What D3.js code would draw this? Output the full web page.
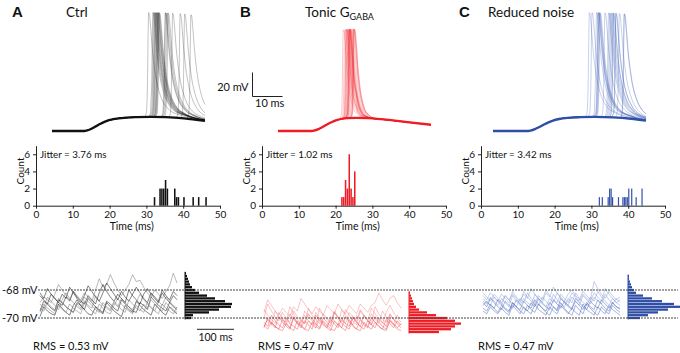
<!DOCTYPE html>
<html>
<head>
<meta charset="utf-8">
<script src="https://cdn.jsdelivr.net/npm/d3@7"></script>
<style>
  body { margin: 0; background: #fff; }
  text { font-family: Lato, "Open Sans", sans-serif; fill: #111; }
</style>
</head>
<body>
<svg id="fig" width="680" height="353"></svg>
<script>
// ---------------- DATA ----------------
const panelLetters = ["A", "B", "C"];
const conditionNames = ["Ctrl", "Tonic G", "Reduced noise"];
const jitterLabels = ["Jitter = 3.76 ms", "Jitter = 1.02 ms", "Jitter = 3.42 ms"];
const rmsLabels = ["RMS = 0.53 mV", "RMS = 0.47 mV", "RMS = 0.47 mV"];

// spike peak times (ms), one per trial
const spikeTimesCtrl = [32.2, 33.6, 33.9, 34.2, 34.4, 34.6, 34.8, 35.1, 35.2, 35.4,
                        35.6, 35.8, 37.7, 37.9, 38.3, 38.7, 40.2, 42.7, 44.2, 46.3];
const spikeTimesTonic = [21.7, 22.2, 22.6, 22.7, 22.9, 23.1, 23.3, 23.55, 23.6, 23.7,
                         23.8, 23.85, 23.95, 24.1, 24.3, 24.7, 25.05, 25.15, 25.3, 25.4];
const spikeTimesReduced = [32.1, 33.0, 34.5, 35.0, 35.1, 35.3, 35.5, 35.7, 37.3, 38.5,
                           38.9, 39.3, 39.7, 40.1, 40.2, 40.9, 41.0, 42.1, 43.7, 43.8];
const binWidths = [0.5, 0.5, 0.4];

// subthreshold response (ms, mV)
const epspCtrl = [[0, -70], [10, -70], [11.5, -69.6], [13, -68.3], [14.5, -66.3], [16, -64.2],
  [17.5, -62.4], [19, -61], [21, -59.9], [24, -59], [28, -58.5], [33, -58.3], [38, -58.5],
  [44, -59.4], [51, -61.5]];
const epspTonic = [[0, -70], [10.5, -70], [12, -69.6], [13.5, -68.4], [15, -66.5], [16.5, -64.3],
  [18, -62.5], [19.5, -61], [21, -60], [23, -59.3], [26, -59.1], [30, -59.2], [36, -60.6],
  [43, -62.6], [51, -64.8]];
const epspReduced = [[0, -70], [11, -70], [12.5, -69.6], [14, -68.4], [15.5, -66.6], [17, -64.6],
  [18.5, -62.8], [20, -61.3], [22, -60], [25, -59], [29, -58.5], [34, -58.3], [40, -58.7],
  [46, -59.8], [51, -61.3]];

// action potential waveform relative to its peak (ms, mV above the subthreshold response)
const apShapeWide = [[-1.5, 0], [-0.8, 3], [-0.4, 25], [-0.15, 70], [0, 87], [0.3, 85], [0.7, 74],
  [1.2, 58], [1.8, 44], [2.5, 32], [3.3, 23], [4.3, 15.5], [5.5, 10], [7, 6], [9, 3.5],
  [12, 1.5], [16, 0.5], [20, 0]];
const apShapeNarrow = [[-1.2, 0], [-0.6, 3], [-0.3, 22], [-0.1, 60], [0.1, 74], [0.4, 72],
  [0.8, 60], [1.3, 42], [2, 25], [3, 12], [4, 5], [5.5, 1.5], [7, 0]];

const countTicks = [0, 2, 4, 6];
const timeTicks = [0, 10, 20, 30, 40, 50];

// membrane potential noise, mV sampled every 10 ms
const noiseStep = 10;
const noiseCtrl = [
  [-69.5,-68.8,-69.0,-69.3,-69.5,-68.7,-68.9,-69.2,-69.4,-69.6,-68.9,-69.1,-69.4,-68.6,-68.9,-69.2,-69.4,-69.6,-68.8,-69.0,-69.3,-69.5,-68.7,-69.0,-69.2,-69.5,-69.6,-68.9,-69.1,-69.4,-68.5,-68.8,-69.1,-69.3,-69.5,-68.9,-69.2,-69.4],
  [-68.9,-68.5,-68.7,-68.9,-68.3,-67.6,-68.0,-68.4,-68.7,-68.1,-68.4,-68.7,-68.2,-68.5,-68.8,-68.0,-67.2,-67.8,-67.6,-66.9,-67.5,-68.0,-68.4,-68.0,-67.6,-66.9,-67.4,-67.3,-67.8,-68.2,-68.5,-68.0,-68.3,-68.6,-68.1,-67.7,-66.8,-67.5],
  [-69.9,-69.2,-69.5,-69.7,-69.8,-69.0,-69.3,-69.6,-69.8,-69.1,-68.7,-69.1,-69.4,-69.7,-69.8,-69.2,-69.5,-69.7,-68.9,-69.2,-69.5,-69.7,-69.9,-69.1,-69.4,-69.6,-68.8,-69.1,-69.4,-69.6,-69.8,-69.0,-69.3,-69.6,-69.8,-69.2,-69.5,-69.7],
  [-69.0,-69.3,-68.5,-68.8,-69.1,-69.4,-68.7,-68.2,-68.6,-68.9,-69.2,-69.4,-68.8,-69.1,-69.3,-68.4,-68.8,-69.1,-69.3,-69.5,-68.9,-69.2,-68.6,-68.9,-69.2,-69.4,-68.9,-68.3,-68.7,-69.0,-69.3,-69.5,-68.8,-69.1,-68.5,-68.8,-69.1,-69.3],
  [-68.4,-68.7,-69.0,-68.3,-68.6,-68.9,-69.1,-68.5,-68.8,-68.1,-68.5,-68.8,-69.0,-68.4,-68.7,-69.0,-68.2,-67.6,-68.1,-68.5,-68.8,-68.3,-68.6,-68.9,-68.0,-68.4,-68.7,-69.0,-68.3,-67.9,-68.3,-68.6,-68.9,-68.2,-68.6,-68.9,-68.4,-68.7],
  [-69.6,-69.0,-69.3,-69.5,-69.7,-69.1,-69.4,-69.6,-69.0,-69.3,-69.5,-69.7,-68.9,-69.2,-69.5,-69.7,-69.0,-69.3,-69.6,-69.7,-69.1,-68.6,-69.0,-69.3,-69.5,-69.7,-69.1,-69.4,-69.6,-68.9,-69.2,-69.5,-69.7,-69.0,-69.3,-69.5,-69.7,-69.2],
  [-68.2,-68.6,-67.9,-68.3,-68.6,-68.9,-68.3,-68.6,-67.8,-68.2,-68.6,-68.9,-68.4,-67.7,-68.1,-68.5,-68.8,-68.2,-67.5,-67.9,-68.3,-68.7,-68.1,-68.5,-68.8,-68.3,-67.8,-68.2,-68.6,-68.9,-68.2,-68.5,-68.8,-68.0,-68.4,-68.7,-68.1,-68.4],
  [-69.3,-69.5,-68.9,-69.2,-69.4,-68.6,-68.9,-69.2,-69.4,-69.6,-69.0,-69.3,-68.5,-68.8,-69.1,-69.4,-69.6,-68.9,-69.2,-69.4,-68.8,-69.1,-69.4,-69.6,-68.7,-69.0,-69.3,-69.5,-69.0,-69.3,-68.7,-69.0,-69.3,-69.5,-68.9,-69.2,-69.4,-69.6]
];
const noiseTonic = [
  [-70.7,-70.0,-70.3,-70.6,-70.8,-70.1,-70.4,-70.7,-69.9,-70.3,-70.6,-70.8,-70.2,-70.5,-70.7,-70.0,-70.4,-70.7,-70.9,-70.2,-70.5,-70.7,-69.9,-70.3,-70.6,-70.8,-70.1,-70.5,-70.7,-70.0,-70.3,-70.6,-70.8,-70.1,-70.4,-70.7,-70.2,-70.5],
  [-69.6,-68.7,-69.1,-69.5,-69.8,-69.3,-69.6,-69.9,-69.2,-69.5,-68.6,-69.0,-69.4,-69.7,-69.2,-69.5,-69.8,-69.1,-69.4,-69.7,-69.0,-69.4,-69.7,-69.1,-69.4,-69.7,-69.0,-69.3,-69.6,-69.1,-68.9,-68.2,-68.7,-69.1,-68.6,-68.4,-68.9,-69.3],
  [-70.3,-70.6,-69.8,-70.2,-70.5,-70.7,-70.0,-70.4,-70.6,-70.8,-70.1,-70.4,-69.7,-70.1,-70.4,-70.7,-70.0,-70.3,-70.6,-69.6,-70.0,-70.4,-70.6,-70.8,-70.0,-70.3,-70.6,-69.8,-70.2,-70.5,-70.7,-70.0,-70.3,-70.6,-69.7,-70.1,-70.4,-70.7],
  [-69.9,-70.2,-70.5,-69.5,-69.9,-70.2,-70.5,-69.7,-70.1,-70.4,-70.6,-69.8,-70.2,-70.5,-69.6,-70.0,-70.3,-70.6,-69.9,-70.2,-70.5,-69.4,-69.8,-70.2,-70.5,-69.8,-70.1,-70.4,-70.6,-69.7,-70.1,-70.4,-69.5,-69.9,-70.2,-70.5,-69.8,-70.1],
  [-70.5,-70.8,-70.3,-70.6,-70.8,-70.9,-70.4,-70.7,-70.9,-70.2,-70.5,-70.8,-70.9,-70.3,-70.6,-70.8,-70.2,-70.5,-70.8,-70.9,-70.4,-70.7,-70.9,-70.1,-70.5,-70.8,-70.9,-70.3,-70.6,-70.8,-70.3,-70.6,-70.8,-70.9,-70.2,-70.5,-70.8,-70.9],
  [-69.4,-69.8,-70.1,-70.4,-69.6,-70.0,-70.3,-69.2,-69.7,-70.1,-70.4,-69.5,-69.9,-70.2,-70.5,-69.3,-69.8,-70.1,-70.4,-69.6,-70.0,-70.3,-69.4,-69.8,-70.2,-70.5,-69.5,-69.9,-70.2,-69.3,-69.7,-70.1,-70.4,-69.6,-69.1,-69.6,-70.0,-70.3],
  [-70.6,-70.1,-70.4,-70.7,-69.9,-70.3,-70.6,-70.8,-70.0,-70.4,-70.7,-70.2,-70.5,-70.8,-69.8,-70.2,-70.5,-70.7,-70.1,-70.4,-70.7,-70.0,-70.4,-70.6,-69.9,-70.3,-70.6,-70.8,-70.2,-70.5,-69.9,-70.3,-70.6,-70.8,-70.1,-70.4,-70.7,-70.4],
  [-70.0,-69.0,-69.5,-69.9,-70.2,-69.6,-70.0,-70.3,-69.5,-69.9,-70.2,-70.4,-69.3,-69.8,-70.1,-70.4,-69.7,-70.0,-70.3,-69.5,-69.9,-70.2,-70.4,-69.6,-69.9,-70.2,-69.4,-69.8,-70.1,-70.4,-69.2,-69.7,-70.1,-70.3,-69.8,-70.1,-70.3,-70.5]
];
const noiseReduced = [
  [-68.9,-69.2,-68.6,-68.9,-69.2,-69.4,-68.8,-69.1,-69.3,-68.7,-69.0,-69.3,-69.5,-68.9,-69.2,-68.6,-68.9,-69.2,-69.4,-68.7,-69.0,-69.3,-68.8,-69.1,-69.3,-68.6,-68.9,-69.2,-69.4,-68.8,-69.1,-69.3,-68.7,-69.0,-69.3,-68.9,-69.2,-69.4],
  [-68.4,-68.7,-68.2,-68.5,-68.8,-68.3,-68.6,-68.9,-68.1,-68.5,-68.8,-68.3,-68.6,-67.9,-68.3,-68.6,-68.9,-68.2,-68.5,-67.8,-68.2,-68.5,-68.8,-68.3,-68.0,-68.4,-68.7,-68.1,-68.4,-68.7,-67.4,-67.9,-68.3,-68.6,-68.1,-68.4,-68.7,-68.5],
  [-69.3,-69.5,-69.0,-69.3,-69.6,-69.1,-69.4,-69.6,-68.9,-69.2,-69.5,-69.7,-69.1,-69.4,-69.6,-69.0,-69.3,-69.6,-69.8,-69.2,-69.5,-68.9,-69.3,-69.6,-69.8,-69.1,-69.4,-69.7,-69.0,-69.3,-69.6,-69.8,-69.2,-69.5,-69.7,-69.1,-69.4,-69.6],
  [-68.6,-68.9,-69.1,-68.5,-68.8,-69.1,-68.4,-68.7,-69.0,-69.2,-68.6,-68.9,-68.2,-68.6,-68.9,-69.1,-68.5,-68.8,-69.1,-68.3,-68.7,-69.0,-69.2,-68.6,-68.9,-68.2,-68.6,-68.9,-69.1,-68.5,-68.8,-68.1,-68.5,-68.8,-69.1,-68.6,-68.9,-69.1],
  [-69.1,-68.8,-69.1,-69.3,-68.7,-69.0,-69.3,-69.5,-68.9,-69.2,-69.4,-68.8,-69.1,-69.3,-68.7,-69.0,-69.3,-69.5,-68.9,-69.2,-69.4,-68.6,-68.9,-69.2,-69.4,-68.8,-69.1,-69.4,-68.9,-69.2,-69.4,-68.7,-69.0,-69.3,-69.5,-68.9,-69.2,-69.3],
  [-68.2,-68.5,-68.8,-68.3,-68.6,-68.9,-68.4,-68.7,-68.3,-68.6,-68.9,-68.1,-68.5,-68.8,-69.0,-68.4,-68.7,-68.0,-68.4,-68.7,-68.9,-68.3,-68.6,-68.9,-68.2,-68.5,-68.8,-68.3,-68.6,-68.8,-68.2,-68.5,-68.8,-67.9,-68.3,-68.6,-68.9,-68.7],
  [-69.5,-69.7,-69.2,-69.5,-69.7,-69.3,-69.6,-69.8,-69.1,-69.4,-69.7,-69.2,-69.5,-69.7,-69.0,-69.4,-69.6,-69.8,-69.2,-69.5,-69.7,-69.1,-69.4,-69.7,-69.3,-69.6,-69.8,-69.0,-69.4,-69.6,-69.8,-69.2,-69.5,-69.7,-69.1,-69.4,-69.6,-69.8],
  [-68.8,-69.0,-68.5,-68.8,-69.1,-68.6,-68.9,-69.2,-68.4,-68.8,-69.1,-68.6,-68.9,-69.1,-68.3,-68.7,-69.0,-69.2,-68.6,-68.9,-68.2,-68.6,-68.9,-69.1,-68.5,-68.8,-69.1,-68.4,-68.7,-69.0,-68.5,-68.8,-69.0,-68.3,-68.7,-69.0,-68.6,-68.9]
];

// membrane potential histograms: [bin centre mV, count]
const vmHistCtrl = [[-70.0, 6], [-69.8, 8], [-69.6, 24], [-69.4, 34], [-69.2, 46], [-69.0, 47],
  [-68.8, 40], [-68.6, 30], [-68.4, 22], [-68.2, 14], [-68.0, 10], [-67.8, 7], [-67.6, 5],
  [-67.4, 4], [-67.2, 3], [-67.0, 2], [-66.8, 1]];
const vmHistTonic = [[-71.0, 30], [-70.8, 42], [-70.6, 46], [-70.4, 52], [-70.2, 46], [-70.0, 38],
  [-69.8, 27], [-69.6, 18], [-69.4, 10], [-69.2, 7], [-69.0, 5], [-68.8, 4], [-68.6, 3],
  [-68.4, 2], [-68.2, 1]];
const vmHistReduced = [[-70.0, 12], [-69.8, 20], [-69.6, 30], [-69.4, 40], [-69.2, 52], [-69.0, 46],
  [-68.8, 34], [-68.6, 24], [-68.4, 15], [-68.2, 8], [-68.0, 6], [-67.8, 4], [-67.6, 3],
  [-67.4, 2], [-67.2, 1], [-67.0, 1]];
const vmLines = [-68, -70];

// ---------------- LAYOUT ----------------
const panels = [
  { letterX: 12, titleX: 66, sub: null, spikes: spikeTimesCtrl, epsp: epspCtrl, ap: apShapeWide,
    traceX: 52, histX: 36, noise: noiseCtrl, vm: vmHistCtrl, noiseX: 40, vmX: 185, rmsX: 33,
    traceColor: "#000", traceOpacity: 0.4, baseColor: "#111", barColor: "#111",
    noiseColors: ["#111", "#7a7a7a"], noiseOpacity: 0.8 },
  { letterX: 240, titleX: 305, sub: "GABA", spikes: spikeTimesTonic, epsp: epspTonic, ap: apShapeNarrow,
    traceX: 278, histX: 262, noise: noiseTonic, vm: vmHistTonic, noiseX: 264, vmX: 409, rmsX: 258,
    traceColor: "#ee1c25", traceOpacity: 0.4, baseColor: "#ee1c25", barColor: "#ee1c25",
    noiseColors: ["#ee2a30", "#f26a6e"], noiseOpacity: 0.6 },
  { letterX: 459, titleX: 488, sub: null, spikes: spikeTimesReduced, epsp: epspReduced, ap: apShapeWide,
    traceX: 493, histX: 481, noise: noiseReduced, vm: vmHistReduced, noiseX: 483, vmX: 628, rmsX: 478,
    traceColor: "#3556b0", traceOpacity: 0.45, baseColor: "#2f4ea6", barColor: "#2f4ea6",
    noiseColors: ["#3c5cb4", "#7d93d2"], noiseOpacity: 0.7 }
];

const svg = d3.select("#fig");

// subthreshold response plus one action potential
function buildTrace(epsp, ap, ts) {
  const base = d3.scaleLinear().domain(epsp.map(d => d[0])).range(epsp.map(d => d[1])).clamp(true);
  const spike = d3.scaleLinear().domain(ap.map(d => d[0])).range(ap.map(d => d[1])).clamp(true);
  const tEnd = epsp[epsp.length - 1][0];
  const times = Array.from(new Set(epsp.map(d => d[0]).concat(ap.map(d => ts + d[0]))))
    .filter(t => t >= 0 && t <= tEnd).sort(d3.ascending);
  return times.map(t => [t, base(t) + spike(t - ts)]);
}

panels.forEach((p, k) => {
  // letter and title
  svg.append("text").attr("x", p.letterX).attr("y", 17)
    .style("font-family", "'Liberation Sans', Arial, sans-serif")
    .attr("font-weight", "bold").attr("font-size", 15).text(panelLetters[k]);
  const title = svg.append("text").attr("x", p.titleX).attr("y", 17).attr("font-size", 13.5)
    .text(conditionNames[k]);
  if (p.sub) title.append("tspan").attr("dy", 3).attr("font-size", 9).text(p.sub);

  // spike traces
  const xT = d3.scaleLinear().domain([0, 51]).range([p.traceX, p.traceX + 153]);
  const yT = d3.scaleLinear().domain([-70, 30]).range([131, 11]);
  const lineT = d3.line().x(d => xT(d[0])).y(d => yT(d[1])).curve(d3.curveMonotoneX);
  const gT = svg.append("g");
  gT.selectAll("path.trial")
    .data(p.spikes.map(ts => buildTrace(p.epsp, p.ap, ts)))
    .join("path")
    .attr("class", "trial")
    .attr("d", lineT)
    .attr("fill", "none")
    .attr("stroke", p.traceColor)
    .attr("stroke-opacity", p.traceOpacity)
    .attr("stroke-width", 0.6);
  gT.append("path").datum(p.epsp)
    .attr("d", lineT).attr("fill", "none")
    .attr("stroke", p.baseColor).attr("stroke-width", 2.3);

  // scale bar next to panel B traces
  if (k === 1) {
    const sx = 252.5, sy = 96.5;
    const vLen = yT(-70) - yT(-50);
    const hLen = xT(10) - xT(0);
    svg.append("path")
      .attr("d", `M${sx},${sy - vLen}V${sy}H${sx + hLen}`)
      .attr("fill", "none").attr("stroke", "#222").attr("stroke-width", 1);
    svg.append("text").attr("x", sx - 4).attr("y", 91).attr("text-anchor", "end")
      .attr("font-size", 11).text("20 mV");
    svg.append("text").attr("x", sx + 2.5).attr("y", 107).attr("font-size", 11).text("10 ms");
  }

  // spike time histogram
  const xH = d3.scaleLinear().domain([0, 50]).range([p.histX, p.histX + 184]);
  const yH = d3.scaleLinear().domain([0, 7]).range([205.7, 145.7]);
  const w = binWidths[k];
  const bins = d3.bin()
    .domain([0, 50])
    .thresholds(d3.range(1, Math.round(50 / w)).map(i => i * w))(p.spikes)
    .filter(b => b.length > 0);
  const gH = svg.append("g");
  gH.selectAll("rect")
    .data(bins)
    .join("rect")
    .attr("x", d => xH(d.x0))
    .attr("y", d => yH(d.length))
    .attr("width", d => Math.max(0.8, xH(d.x1) - xH(d.x0) - 0.3))
    .attr("height", d => yH(0) - yH(d.length))
    .attr("fill", p.barColor);

  const xAxis = gH.append("g")
    .attr("transform", `translate(0,${yH(0)})`)
    .call(d3.axisBottom(xH).tickValues(timeTicks).tickFormat(d3.format("d"))
      .tickSize(3).tickSizeOuter(0));
  const yAxis = gH.append("g")
    .attr("transform", `translate(${p.histX},0)`)
    .call(d3.axisLeft(yH).tickValues(countTicks).tickFormat(d3.format("d"))
      .tickSize(3).tickSizeOuter(0));
  [xAxis, yAxis].forEach(a => {
    a.attr("font-family", null).attr("font-size", null);
    a.selectAll("text").attr("font-size", 10);
    a.selectAll("path, line").attr("stroke", "#222");
  });
  xAxis.selectAll("text").attr("dy", "0.6em");

  gH.append("text").attr("x", xH(26)).attr("y", 229.5).attr("text-anchor", "middle")
    .attr("font-size", 10.5).text("Time (ms)");
  gH.append("text").attr("transform", `translate(${p.histX - 12},171) rotate(-90)`)
    .attr("text-anchor", "middle").attr("font-size", 10).text("Count");
  gH.append("text").attr("x", p.histX + 4).attr("y", 158.3).attr("font-size", 9.8)
    .text(jitterLabels[k]);

  // membrane noise traces
  const xN = d3.scaleLinear().domain([0, 370]).range([p.noiseX, p.noiseX + 137]);
  const yN = d3.scaleLinear().domain([-70, -68]).range([318, 290]);
  const lineN = d3.line().x((d, i) => xN(i * noiseStep)).y(d => yN(d));
  svg.append("g").selectAll("path")
    .data(p.noise)
    .join("path")
    .attr("d", lineN)
    .attr("fill", "none")
    .attr("stroke", (d, i) => p.noiseColors[i % 2])
    .attr("stroke-opacity", p.noiseOpacity)
    .attr("stroke-width", 0.65);

  // membrane potential histogram (horizontal bars)
  const xV = d3.scaleLinear().domain([0, 50]).range([p.vmX, p.vmX + 50]);
  const gV = svg.append("g");
  gV.selectAll("rect")
    .data(p.vm)
    .join("rect")
    .attr("x", p.vmX)
    .attr("y", d => yN(d[0] + 0.1) + 0.25)
    .attr("width", d => xV(d[1]) - p.vmX)
    .attr("height", d => yN(d[0] - 0.1) - yN(d[0] + 0.1) - 0.5)
    .attr("fill", p.barColor);
  const vExt = d3.extent(p.vm, d => d[0]);
  gV.append("line")
    .attr("x1", p.vmX).attr("x2", p.vmX)
    .attr("y1", yN(vExt[1] + 0.1)).attr("y2", yN(vExt[0] - 0.1))
    .attr("stroke", p.barColor).attr("stroke-width", 1);

  svg.append("text").attr("x", p.rmsX).attr("y", 350).attr("font-size", 11).text(rmsLabels[k]);

  if (k === 0) {
    const bx = 197, by = 329.3;
    svg.append("line").attr("x1", bx).attr("x2", bx + xN(100) - xN(0))
      .attr("y1", by).attr("y2", by).attr("stroke", "#222").attr("stroke-width", 1);
    svg.append("text").attr("x", bx + (xN(100) - xN(0)) / 2).attr("y", 341)
      .attr("text-anchor", "middle").attr("font-size", 10.5).text("100 ms");
  }
});

// dashed reference lines at -68 and -70 mV
const yRef = d3.scaleLinear().domain([-70, -68]).range([318, 290]);
svg.append("g").selectAll("line")
  .data(vmLines)
  .join("line")
  .attr("x1", 38).attr("x2", 678)
  .attr("y1", d => yRef(d)).attr("y2", d => yRef(d))
  .attr("stroke", "#444").attr("stroke-width", 1).attr("stroke-dasharray", "2,1");
svg.append("g").selectAll("text")
  .data(vmLines)
  .join("text")
  .attr("x", 2).attr("y", d => yRef(d) + 3.8)
  .attr("font-size", 11)
  .text(d => `${d} mV`);
</script>
</body>
</html>
